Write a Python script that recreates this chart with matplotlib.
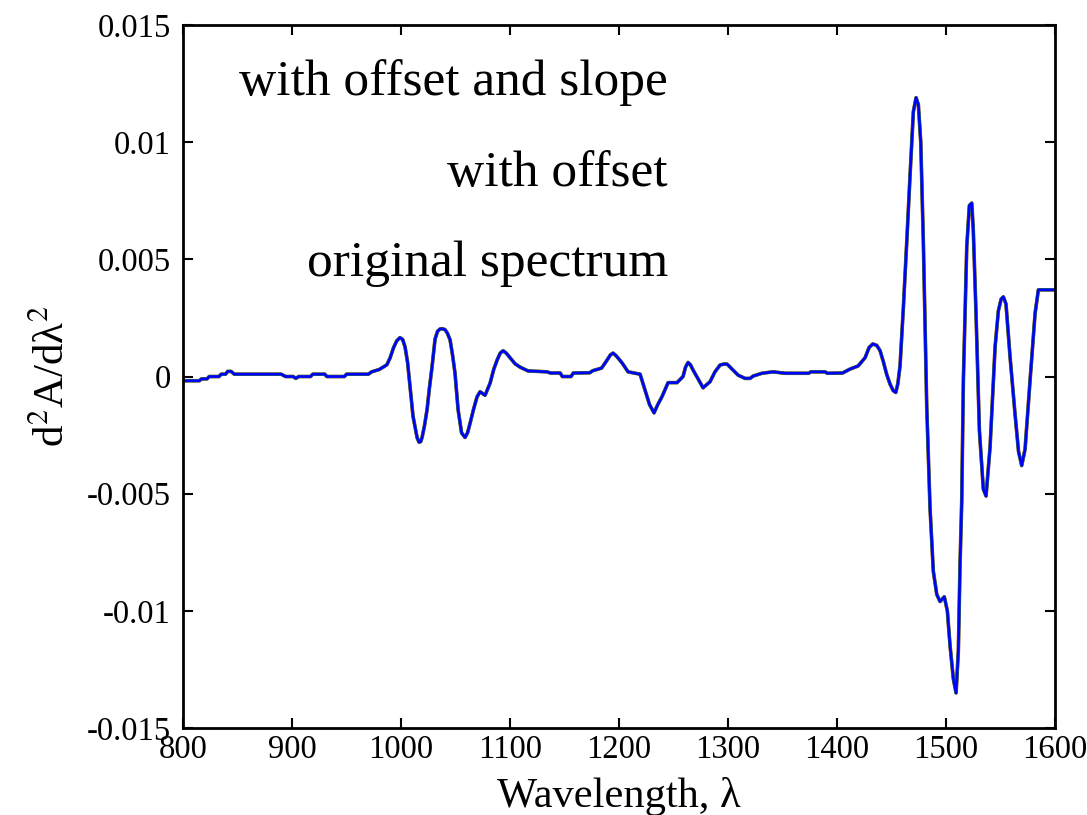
import matplotlib
matplotlib.use("Agg")
import matplotlib.pyplot as plt

# Second-derivative spectrum (identical for all three pretreatments)
wavelength = [
    800, 815, 817, 822, 824, 833, 835, 839, 841, 844, 847, 890, 894, 901, 903.5, 906,
    917, 919, 930, 932, 948, 950, 970, 973, 980, 987, 990, 993, 996, 999, 1001.5,
    1003.7, 1006, 1008.3, 1011, 1014.7, 1016.5, 1018, 1019.3, 1021.5, 1023.9, 1026,
    1028.4, 1031.2, 1033.5, 1035.8, 1038, 1040.4, 1042.5, 1045, 1047.3, 1049.5,
    1052.3, 1055.5, 1058.7, 1061, 1063.3, 1066.5, 1069.7, 1072.5, 1077.1, 1081.7,
    1085, 1088.1, 1091, 1093.6, 1096.5, 1100, 1104.5, 1109.2, 1116.5, 1134, 1137,
    1146, 1148, 1156, 1158, 1173, 1176, 1184, 1189, 1192, 1194.5, 1197.5, 1202.8,
    1208.3, 1212.8, 1219.3, 1223.9, 1228, 1232.1, 1235.5, 1239.4, 1245, 1253.2,
    1258.7, 1261, 1263.3, 1265.5, 1267.9, 1272.5, 1277.1, 1283.5, 1288, 1292.7,
    1296, 1299.1, 1304, 1309.2, 1315.6, 1320.2, 1323, 1331.2, 1341.3, 1352.3, 1374,
    1376, 1389, 1391, 1405, 1412, 1419.3, 1425.7, 1429.4, 1432.8, 1436.4, 1439.5,
    1442.5, 1445.5, 1448.6, 1451.5, 1453.9, 1455.8, 1457.8, 1460.8, 1463.9, 1467,
    1470, 1472.5, 1474.6, 1476.8, 1479.2, 1482.3, 1485.3, 1488.3, 1491.5, 1494.5,
    1498.4, 1501.2, 1503.7, 1506.7, 1509.2, 1511.3, 1512.8, 1514.4, 1515.9, 1519,
    1521.4, 1523.6, 1525, 1527.5, 1530.6, 1534.2, 1536.7, 1540.4, 1545, 1548,
    1550.5, 1552.6, 1555, 1558.7, 1563.3, 1566.5, 1569.4, 1572.5, 1577.1, 1581.7,
    1584.7, 1600,
]
d2a = [
    -0.00018, -0.00018, -0.0001, -0.0001, 0.0, 0.0, 0.0001, 0.0001, 0.00022, 0.00022,
    0.0001, 0.0001, 0.0, 0.0, -0.00008, 0.0, 0.0, 0.0001, 0.0001, 0.0, 0.0, 0.0001,
    0.0001, 0.0002, 0.0003, 0.0005, 0.0008, 0.00122, 0.00152, 0.00166, 0.00158,
    0.00126, 0.0006, -0.00045, -0.0017, -0.0026, -0.0028, -0.00278, -0.0026, -0.0021,
    -0.0014, -0.0005, 0.0004, 0.0016, 0.00193, 0.00203, 0.00204, 0.002, 0.00185,
    0.00156, 0.0009, 0.00015, -0.0014, -0.0024, -0.0026, -0.0024, -0.0020, -0.0014,
    -0.00087, -0.00065, -0.0008, -0.00028, 0.0003, 0.0007, 0.001, 0.0011, 0.001,
    0.0008, 0.00055, 0.0004, 0.00024, 0.0002, 0.00015, 0.00015, 0.0, 0.0, 0.00015,
    0.00016, 0.00025, 0.00036, 0.0007, 0.00092, 0.001, 0.00088, 0.00058, 0.0002,
    0.00016, 0.0001, -0.00058, -0.0012, -0.00155, -0.0012, -0.00086, -0.00026,
    -0.00026, 0.0, 0.0004, 0.0006, 0.0005, 0.00028, -0.0001, -0.00048, -0.00022,
    0.0002, 0.00049, 0.00053, 0.00053, 0.0003, 0.00006, -0.00008, -0.00008, 0.00002,
    0.00014, 0.0002, 0.00014, 0.00014, 0.0002, 0.0002, 0.00014, 0.00015, 0.00032,
    0.00045, 0.0008, 0.00124, 0.00139, 0.00133, 0.0011, 0.00063, 0.0001, -0.00032,
    -0.0006, -0.00068, -0.0003, 0.00046, 0.0029, 0.0057, 0.0086, 0.0113, 0.0119,
    0.0116, 0.0100, 0.0057, -0.0013, -0.0056, -0.0083, -0.0093, -0.0096, -0.0094,
    -0.0100, -0.0115, -0.0129, -0.0135, -0.0117, -0.0081, -0.0053, -0.00015, 0.00554,
    0.0073, 0.0074, 0.00625, 0.0027, -0.0023, -0.0048, -0.0051, -0.003, 0.00127,
    0.0028, 0.0033, 0.0034, 0.0031, 0.00085, -0.0016, -0.0032, -0.0038, -0.0031,
    -0.00015, 0.0027, 0.0037, 0.0037,
]

series_labels = ["with offset and slope", "with offset", "original spectrum"]
x_ticks = [800, 900, 1000, 1100, 1200, 1300, 1400, 1500, 1600]
y_ticks = [-0.015, -0.01, -0.005, 0, 0.005, 0.01, 0.015]
y_tick_labels = ["-0.015", "-0.01", "-0.005", "0", "0.005", "0.01", "0.015"]

plt.rcParams["font.family"] = ["Liberation Serif", "DejaVu Serif"]
plt.rcParams["mathtext.fontset"] = "stix"

fig = plt.figure(figsize=(10.87, 8.15), dpi=100)
ax = fig.add_axes([0.1684, 0.1067, 0.8022, 0.8626])

ax.plot(wavelength, d2a, color="#a03020", lw=2.6, solid_joinstyle="round")
ax.plot(wavelength, d2a, color="#20a020", lw=2.3, solid_joinstyle="round")
ax.plot(wavelength, d2a, color="#0000ff", lw=1.9, solid_joinstyle="round")

ax.set_xlim(800, 1600)
ax.set_ylim(-0.015, 0.015)
ax.set_xticks(x_ticks)
ax.set_xticklabels([str(t) for t in x_ticks])
ax.set_yticks(y_ticks)
ax.set_yticklabels(y_tick_labels)

ax.tick_params(direction="in", length=7, width=1.5, top=True, right=True,
               labelsize=23.5)
ax.tick_params(axis="x", pad=5)
ax.tick_params(axis="y", pad=9)
for sp in ax.spines.values():
    sp.set_linewidth(2)

ax.set_xlabel("Wavelength, λ", fontsize=30.5, labelpad=8)
ax.set_ylabel("d$^2$A/dλ$^2$", fontsize=31, labelpad=10)

for lbl, yy in zip(series_labels, [0.9004, 0.771, 0.643]):
    ax.text(0.556, yy, lbl, transform=ax.transAxes, ha="right", va="baseline",
            fontsize=37)

fig.savefig("out.png", dpi=100)
